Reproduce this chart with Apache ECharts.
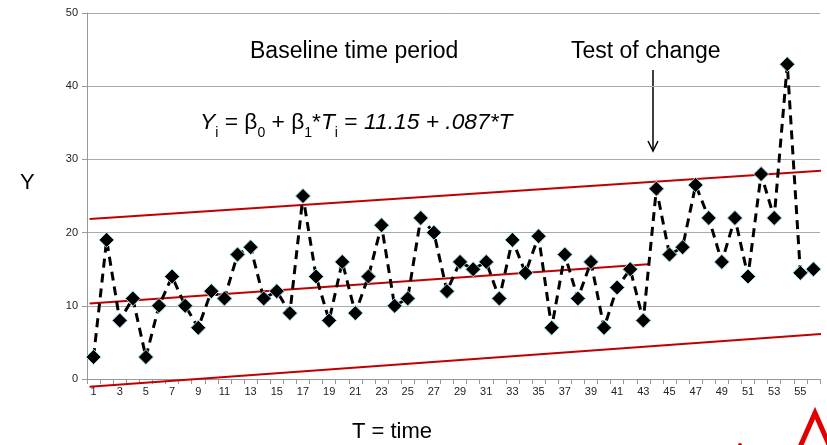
<!DOCTYPE html>
<html>
<head>
    <meta charset="UTF-8">
    <title></title>
    <style>
        html, body { margin: 0; padding: 0; background: #fff; }
        #container { width: 827px; height: 445px; }
    </style>
</head>
<body>
    <div id="container"></div>
    <script src="https://cdn.jsdelivr.net/npm/echarts@6/dist/echarts.min.js"></script>
    <script>
        // time points T
        var periods = [1,2,3,4,5,6,7,8,9,10,11,12,13,14,15,16,17,18,19,20,
            21,22,23,24,25,26,27,28,29,30,31,32,33,34,35,36,37,38,39,40,
            41,42,43,44,45,46,47,48,49,50,51,52,53,54,55,56];
        // observed Y
        var yValues = [3,19,8,11,3,10,14,10,7,12,11,17,18,11,12,9,25,14,8,16,
            9,14,21,10,11,22,20,12,16,15,16,11,19,14.5,19.5,7,17,11,16,7,
            12.5,15,8,26,17,18,26.5,22,16,22,14,28,22,43,14.5,15];
        // red lines, [T, Y] end points
        var trendLine = [[0.7, 10.3], [43.35, 15.67]];
        var upperLine = [[0.7, 21.86], [57.1, 28.5]];
        var lowerLine = [[0.7, -1.05], [57.1, 6.2]];
        var yTicks = { min: 0, max: 50, step: 10 };

        var font = 'Liberation Sans, Arial, sans-serif';
        var myChart = echarts.init(document.getElementById('container'));

        function redLine(pts) {
            return {
                type: 'line',
                xAxisIndex: 1,
                data: pts,
                symbol: 'none',
                clip: false,
                silent: true,
                z: 1,
                lineStyle: { color: '#c00000', width: 2 }
            };
        }

        function label(x, y, txt, size) {
            return {
                type: 'text', left: x, top: y, silent: true,
                style: { text: txt, fontSize: size, fontFamily: font, fill: '#000' }
            };
        }

        myChart.setOption({
            animation: false,
            grid: { left: 87, right: 7, top: 13, bottom: 66 },
            xAxis: [{
                type: 'category',
                data: periods,
                boundaryGap: true,
                axisLine: { lineStyle: { color: '#999' } },
                axisTick: { show: true, interval: 0, length: 5, lineStyle: { color: '#999' } },
                axisLabel: { interval: 1, color: '#222', fontSize: 11, fontFamily: font, margin: 7 }
            }, {
                type: 'value',
                min: 0.5,
                max: 56.5,
                show: false
            }],
            yAxis: {
                type: 'value',
                min: yTicks.min,
                max: yTicks.max,
                interval: yTicks.step,
                axisLine: { show: true, lineStyle: { color: '#999' } },
                axisTick: { show: true, length: 5, lineStyle: { color: '#999' } },
                axisLabel: { color: '#222', fontSize: 11, fontFamily: font, margin: 9 },
                splitLine: { lineStyle: { color: '#aaa' } }
            },
            series: [
                redLine(upperLine),
                redLine(trendLine),
                redLine(lowerLine),
                {
                    type: 'line',
                    data: yValues,
                    symbol: 'diamond',
                    symbolSize: 15,
                    showAllSymbol: true,
                    z: 3,
                    itemStyle: { color: '#000', borderColor: '#9fdce6', borderWidth: 1 },
                    lineStyle: { color: '#000', width: 3, type: [9, 6] }
                }
            ],
            graphic: [
                label(250, 40, 'Baseline time period', 23),
                label(571, 40, 'Test of change', 23),
                label(20, 172, 'Y', 22),
                label(352, 421, 'T = time', 22),
                {
                    type: 'text', left: 200, top: 111, silent: true,
                    style: {
                        text: '{i|Y}{s|i}{n| = β}{s|0}{n| + β}{s|1}{n|*}{i|T}{s|i}{n| = }{i|11.15 + .087*T}',
                        fontFamily: font,
                        fill: '#000',
                        rich: {
                            n: { fontSize: 22.8, fontFamily: font, lineHeight: 26, verticalAlign: 'bottom' },
                            i: { fontSize: 22.8, fontFamily: font, fontStyle: 'italic', lineHeight: 26, verticalAlign: 'bottom' },
                            s: { fontSize: 14, fontFamily: font, lineHeight: 14, verticalAlign: 'bottom', padding: [0, 0, -6, 0] }
                        }
                    }
                },
                {
                    type: 'polyline', silent: true,
                    shape: { points: [[653, 70], [653, 150]] },
                    style: { stroke: '#000', lineWidth: 1.5, fill: null }
                },
                {
                    type: 'polyline', silent: true,
                    shape: { points: [[648, 141], [653, 151], [658, 141]] },
                    style: { stroke: '#000', lineWidth: 1.5, fill: null }
                },
                {
                    type: 'polyline', silent: true,
                    shape: { points: [[800, 447], [815, 413], [830, 447]] },
                    style: { stroke: '#e00000', lineWidth: 5, fill: null }
                },
                {
                    type: 'circle', silent: true,
                    shape: { cx: 740, cy: 445, r: 2 },
                    style: { fill: '#e00000' }
                }
            ]
        });
    </script>
</body>
</html>
